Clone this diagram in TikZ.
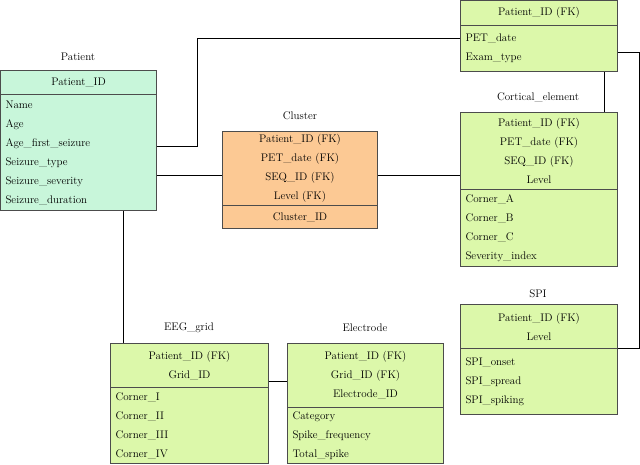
\documentclass[tikz,border=0pt]{standalone}
\usepackage{tikz}
\usepackage{xcolor}
\definecolor{MintER}{HTML}{C8F6DA}
\definecolor{GreenER}{HTML}{DCF8AA}
\definecolor{OrangeER}{HTML}{FCC994}
\tikzstyle{boxstyle} = [rectangle, draw=black!70, line width=1pt, anchor=north west, inner xsep=5pt, inner ysep=0pt, font=\fontsize{11}{19}\selectfont]
\tikzstyle{hd} = [boxstyle, align=center]
\tikzstyle{bd} = [boxstyle, align=left]
\tikzstyle{ttl} = [font=\fontsize{11}{13}\selectfont]
\tikzset{every picture/.style={line width=1pt}}

\begin{document}
\begin{tikzpicture}[x=1pt, y=1pt]
\useasboundingbox (0,0) rectangle (640,-464);
% Patient
\node[ttl] at (78,-57) {Patient};
\node[hd, fill=MintER, minimum width=156, minimum height=24] (pat) at (0,-70) {Patient\_ID};
\node[bd, fill=MintER, text width=146, minimum height=116] (patb) at (0,-94) {Name\\Age\\Age\_first\_seizure\\Seizure\_type\\Seizure\_severity\\Seizure\_duration};
% PET exam
\node[hd, fill=GreenER, minimum width=157, minimum height=25] (pet) at (460,0) {Patient\_ID (FK)};
\node[bd, fill=GreenER, text width=147, minimum height=46] (petb) at (460,-25) {PET\_date\\Exam\_type};
% Cluster
\node[ttl] at (300,-116) {Cluster};
\node[hd, fill=OrangeER, minimum width=155, minimum height=74] (clu) at (222,-131) {Patient\_ID (FK)\\PET\_date (FK)\\SEQ\_ID (FK)\\Level (FK)};
\node[hd, fill=OrangeER, minimum width=155, minimum height=23] (club) at (222,-205) {Cluster\_ID};
% Cortical element
\node[ttl] at (538,-97) {Cortical\_element};
\node[hd, fill=GreenER, minimum width=157, minimum height=77] (cor) at (460,-112) {Patient\_ID (FK)\\PET\_date (FK)\\SEQ\_ID (FK)\\Level};
\node[bd, fill=GreenER, text width=147, minimum height=77] (corb) at (460,-189) {Corner\_A\\Corner\_B\\Corner\_C\\Severity\_index};
% SPI
\node[ttl] at (538,-294) {SPI};
\node[hd, fill=GreenER, minimum width=157, minimum height=44] (spi) at (460,-304) {Patient\_ID (FK)\\Level};
\node[bd, fill=GreenER, text width=147, minimum height=66] (spib) at (460,-348) {SPI\_onset\\SPI\_spread\\SPI\_spiking};
% EEG grid
\node[ttl] at (189,-328) {EEG\_grid};
\node[hd, fill=GreenER, minimum width=158, minimum height=44] (eeg) at (110,-343) {Patient\_ID (FK)\\Grid\_ID};
\node[bd, fill=GreenER, text width=148, minimum height=76] (eegb) at (110,-387) {Corner\_I\\Corner\_II\\Corner\_III\\Corner\_IV};
% Electrode
\node[ttl] at (365,-328) {Electrode};
\node[hd, fill=GreenER, minimum width=156, minimum height=64] (ele) at (287,-343) {Patient\_ID (FK)\\Grid\_ID (FK)\\Electrode\_ID};
\node[bd, fill=GreenER, text width=146, minimum height=56] (eleb) at (287,-407) {Category\\Spike\_frequency\\Total\_spike};
% connectors
\coordinate (k1) at (197,-146);
\coordinate (k2) at (197,-38);
\coordinate (k3) at (639,-52);
\coordinate (k4) at (639,-348);
\draw (patb.east |- k1) -- (k1) -- (k2) -- (petb.west |- k2);
\draw (patb.east |- 0,-175) -- (clu.west |- 0,-175);
\draw (clu.east |- 0,-175) -- (cor.west |- 0,-175);
\draw (petb.south -| 604,0) -- (cor.north -| 604,0);
\draw (petb.east |- k3) -- (k3) -- (k4) -- (spib.north east);
\draw (patb.south -| 123,0) -- (eeg.north -| 123,0);
\draw (eeg.east |- 0,-381) -- (ele.west |- 0,-381);
\end{tikzpicture}
\end{document}
